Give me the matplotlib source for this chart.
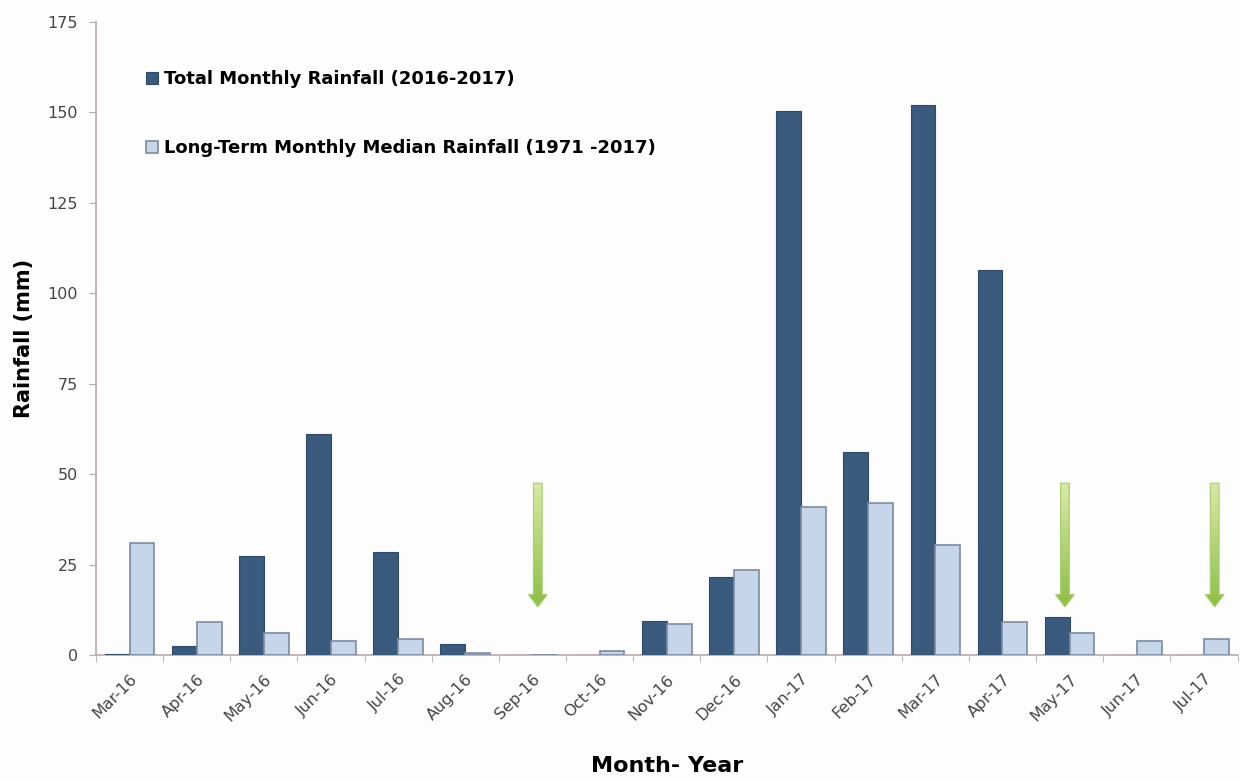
import numpy as np
import matplotlib
matplotlib.use("Agg")
import matplotlib.pyplot as plt
from matplotlib.patches import Polygon
from matplotlib.colors import LinearSegmentedColormap

# Monthly rainfall, Mar 2016 - Jul 2017
months = ["Mar-16", "Apr-16", "May-16", "Jun-16", "Jul-16", "Aug-16", "Sep-16",
          "Oct-16", "Nov-16", "Dec-16", "Jan-17", "Feb-17", "Mar-17", "Apr-17",
          "May-17", "Jun-17", "Jul-17"]
total_rain = [0.3, 2.5, 27.5, 61, 28.5, 3, 0, 0, 9.5, 21.5, 150.5, 56, 152,
              106.5, 10.5, 0, 0]
median_rain = [31, 9, 6, 4, 4.5, 0.5, 0, 1.2, 8.5, 23.5, 41, 42, 30.5, 9, 6,
               4, 4.5]

# Dry-month markers (x position in category units, top and tip in mm)
arrow_x = [6.08, 13.93, 16.16]
arrow_top = 47.5
arrow_tip = 13.3

dark = "#3a5a7e"
light = "#c6d6ea"
spine_col = "#b9a9a9"

plt.rcParams['font.family'] = ['DejaVu Sans']

fig = plt.figure(figsize=(12.4, 7.82), dpi=100, facecolor="#fdfdfd")
ax = fig.add_axes([0.0774, 0.1624, 0.9206, 0.8095])
ax.set_facecolor("#fdfdfd")

x = np.arange(len(months))
w = 0.37
ax.bar(x - w / 2, total_rain, w, color=dark, edgecolor="#2f4a69", linewidth=0.8,
       label="Total Monthly Rainfall (2016-2017)", zorder=3)
ax.bar(x + w / 2, median_rain, w, color=light, edgecolor="#7d8ba0", linewidth=1.2,
       label="Long-Term Monthly Median Rainfall (1971 -2017)", zorder=3)

# Gradient green arrows
cmap = LinearSegmentedColormap.from_list("grn", ["#8dbf43", "#d6eaa4"])
grad = np.linspace(0, 1, 256).reshape(-1, 1)
shaft = 0.065
head = 0.14
head_len = 3.4
for ax_x in arrow_x:
    pts = [(ax_x - shaft, arrow_top), (ax_x + shaft, arrow_top),
           (ax_x + shaft, arrow_tip + head_len), (ax_x + head, arrow_tip + head_len),
           (ax_x, arrow_tip), (ax_x - head, arrow_tip + head_len),
           (ax_x - shaft, arrow_tip + head_len)]
    poly = Polygon(pts, closed=True, facecolor="none", edgecolor="#a9cc72",
                   linewidth=0.8, zorder=5)
    ax.add_patch(poly)
    im = ax.imshow(grad, cmap=cmap, origin="lower", aspect="auto",
                   extent=[ax_x - head, ax_x + head, arrow_tip, arrow_top], zorder=4)
    im.set_clip_path(poly)

ax.set_xlim(-0.5, len(months) - 0.5)
ax.set_ylim(0, 175)
ax.set_yticks(np.arange(0, 176, 25))
ax.set_xticks(x)
ax.set_xticklabels(months, rotation=45, ha="right", rotation_mode="anchor")
ax.set_xticks(np.arange(-0.5, len(months), 1), minor=True)
ax.tick_params(axis="x", which="major", length=0, pad=12, labelsize=11.5,
               labelcolor="#454545")
ax.tick_params(axis="x", which="minor", length=5, color=spine_col, direction="out")
ax.tick_params(axis="y", length=5, color=spine_col, labelsize=11.5,
               labelcolor="#454545", pad=8)

for s in ["top", "right"]:
    ax.spines[s].set_visible(False)
for s in ["left", "bottom"]:
    ax.spines[s].set_color(spine_col)
    ax.spines[s].set_linewidth(1.2)

ax.set_ylabel("Rainfall (mm)", fontsize=15, fontweight="bold", labelpad=10)
ax.set_xlabel("Month- Year", fontsize=16, fontweight="bold", labelpad=23)

leg = ax.legend(loc="upper left", bbox_to_anchor=(0.03, 0.95), frameon=False,
                handlelength=0.65, handleheight=0.65, handletextpad=0.3,
                labelspacing=2.85, prop={"weight": "bold", "size": 13})

fig.savefig("out.png", dpi=100, facecolor=fig.get_facecolor())
